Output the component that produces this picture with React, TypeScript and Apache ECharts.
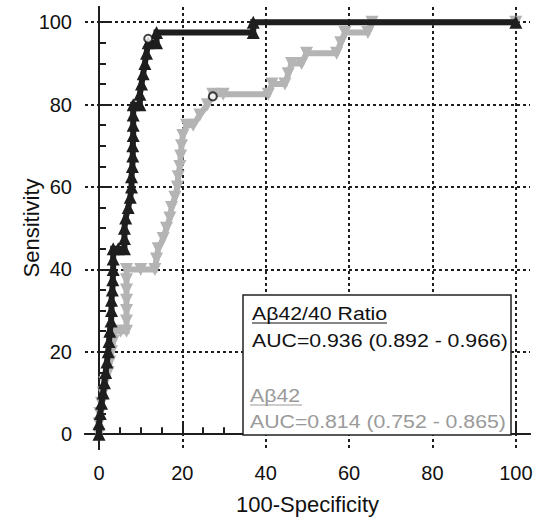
import React, { useEffect, useRef } from "react";
import * as echarts from "echarts";

// ---- data ----
const majorTicks = [0, 20, 40, 60, 80, 100];
const minorTicks = [0, 5, 10, 15, 20, 25, 30, 35, 40, 45, 50, 55, 60, 65, 70, 75, 80, 85, 90, 95, 100];

// Aβ42/40 Ratio ROC (100-Specificity, Sensitivity)
const ratioFpr = [0, 0, 0.3, 0.6, 1, 1.3, 1.6, 1.9, 2.2, 2.4, 2.6, 2.9, 3, 3, 3.2, 3.3, 3.4, 3.4, 3.4, 4.6, 6.1, 6.1, 6.1, 6.4, 7, 7.5, 7.8, 7.8, 8, 8.1, 8.1, 8.2, 8.2, 8.2, 8.2, 9.8, 9.8, 10.2, 10.6, 11, 11.4, 11.8, 13.8, 13.8, 37, 37, 100];
const ratioSens = [0, 2.5, 5, 7.5, 10, 12.5, 15, 17.5, 20, 22.5, 25, 27.5, 30, 32.5, 35, 37.5, 40, 42.5, 45, 45, 45, 47.5, 50, 52.5, 55, 57.5, 60, 62.5, 65, 67.5, 70, 72.5, 75, 77.5, 80, 80, 82.5, 85, 87.5, 90, 92.5, 95, 95, 97.5, 97.5, 100, 100];

// Aβ42 ROC
const ab42Fpr = [0, 0, 0.2, 0.6, 1, 1.4, 2.2, 2.6, 3, 3.4, 3.8, 5.2, 6.6, 6.6, 6.6, 6.6, 6.6, 6.6, 6.6, 10, 13.4, 13.8, 14.2, 15.4, 16.2, 17, 17.4, 18.2, 18.8, 19, 19.4, 19.6, 19.8, 20.1, 21, 22.6, 24.2, 26, 27.3, 29.8, 40.6, 41.5, 44.6, 45.4, 46.2, 48.6, 49.8, 57, 58, 59, 64.5, 65.5, 100];
const ab42Sens = [0, 2.5, 5, 7.5, 10, 12.5, 15, 17.5, 20, 22.5, 25, 25, 25, 27.5, 30, 32.5, 35, 37.5, 40, 40, 40, 42.5, 45, 47.5, 50, 52.5, 55, 57.5, 60, 62.5, 65, 67.5, 70, 72.5, 75, 75, 77.5, 80, 82.5, 82.5, 82.5, 85, 85, 87.5, 90, 90, 92.5, 92.5, 95, 97.5, 97.5, 100, 100];

// optimal cut-off points (open circles)
const ratioCut = [11.8, 96];
const ab42Cut = [27.3, 82];

const ratioTitle = "Aβ42/40 Ratio";
const ratioAuc = "AUC=0.936 (0.892 - 0.966)";
const ab42Title = "Aβ42";
const ab42Auc = "AUC=0.814 (0.752 - 0.865)";

const xName = "100-Specificity";
const yName = "Sensitivity";

const FONT = "'Liberation Sans', Arial, Helvetica, sans-serif";
const DARK = "#1e1e1e";
const GRAY = "#b4b4b4";
const GRAY_TEXT = "#9a9a9a";

const X_MIN = -3.36;
const X_MAX = 103.4;
const Y_MIN = -3.6;
const Y_MAX = 103.7;

export default function App() {
  const ref = useRef<HTMLDivElement>(null);

  useEffect(() => {
    document.body.style.margin = "0";
    const chart = echarts.init(ref.current!, null, { renderer: "svg" });

    const zip = (a: number[], b: number[]) => a.map((v, i) => [v, b[i]]);

    const axisCommon = {
      type: "value" as const,
      axisLine: { show: true, lineStyle: { color: DARK, width: 2 } },
    };

    const option: any = {
      animation: false,
      backgroundColor: "#fff",
      grid: { left: 85, right: 10, top: 7, bottom: 67 },
      xAxis: [
        {
          ...axisCommon,
          position: "bottom",
          min: X_MIN,
          max: X_MAX,
          name: xName,
          nameLocation: "middle",
          nameGap: 44,
          nameMoveOverlap: false,
          nameTextStyle: { fontFamily: FONT, fontSize: 22, color: "#111" },
          axisTick: { show: true, inside: true, length: 12, customValues: majorTicks, lineStyle: { color: DARK, width: 2 } },
          axisLabel: { show: true, customValues: majorTicks, margin: 14, fontFamily: FONT, fontSize: 20, color: "#111" },
          splitLine: { show: true, lineStyle: { color: DARK, width: 2, type: [3, 3] } },
        },
        {
          ...axisCommon,
          position: "bottom",
          min: X_MIN,
          max: X_MAX,
          axisTick: { show: true, inside: true, length: 7, customValues: minorTicks, lineStyle: { color: DARK, width: 2 } },
          axisLabel: { show: false },
          splitLine: { show: false },
        },
      ],
      yAxis: [
        {
          ...axisCommon,
          position: "left",
          min: Y_MIN,
          max: Y_MAX,
          name: yName,
          nameLocation: "middle",
          nameGap: 43,
          nameMoveOverlap: false,
          nameTextStyle: { fontFamily: FONT, fontSize: 22, color: "#111" },
          axisTick: { show: true, inside: true, length: 12, customValues: majorTicks, lineStyle: { color: DARK, width: 2 } },
          axisLabel: { show: true, customValues: majorTicks, margin: 13, fontFamily: FONT, fontSize: 20, color: "#111" },
          splitLine: { show: true, lineStyle: { color: DARK, width: 2, type: [3, 3] } },
        },
        {
          ...axisCommon,
          position: "left",
          min: Y_MIN,
          max: Y_MAX,
          axisTick: { show: true, inside: true, length: 7, customValues: minorTicks, lineStyle: { color: DARK, width: 2 } },
          axisLabel: { show: false },
          splitLine: { show: false },
        },
      ],
      series: [
        {
          name: ab42Title,
          type: "line",
          xAxisIndex: 0,
          yAxisIndex: 0,
          data: zip(ab42Fpr, ab42Sens),
          symbol: "triangle",
          symbolRotate: 180,
          symbolSize: 13,
          showSymbol: true,
          lineStyle: { color: GRAY, width: 6, join: "miter" },
          itemStyle: { color: GRAY },
          z: 3,
        },
        {
          name: ratioTitle,
          type: "line",
          xAxisIndex: 0,
          yAxisIndex: 0,
          data: zip(ratioFpr, ratioSens),
          symbol: "triangle",
          symbolSize: 13,
          showSymbol: true,
          lineStyle: { color: DARK, width: 6, join: "miter" },
          itemStyle: { color: DARK },
          z: 4,
        },
        {
          type: "scatter",
          xAxisIndex: 0,
          yAxisIndex: 0,
          data: [ratioCut, ab42Cut],
          symbol: "circle",
          symbolSize: 8,
          itemStyle: { color: "#fff", borderColor: "#111", borderWidth: 2 },
          z: 6,
        },
      ],
      graphic: [
        {
          type: "rect",
          z: 100,
          shape: { x: 243, y: 295, width: 268, height: 140 },
          style: { fill: "#fff", stroke: "#222", lineWidth: 1.5 },
        },
        {
          type: "text",
          z: 101,
          x: 252,
          y: 313,
          scaleX: 1.12,
          style: { text: ratioTitle, font: `19px ${FONT}`, fill: "#111", textAlign: "left", textVerticalAlign: "middle" },
        },
        {
          type: "line",
          z: 101,
          shape: { x1: 252, y1: 323, x2: 387, y2: 323 },
          style: { stroke: "#111", lineWidth: 1.2 },
        },
        {
          type: "text",
          z: 101,
          x: 252,
          y: 340,
          scaleX: 1.12,
          style: { text: ratioAuc, font: `19px ${FONT}`, fill: "#111", textAlign: "left", textVerticalAlign: "middle" },
        },
        {
          type: "text",
          z: 101,
          x: 250,
          y: 395,
          scaleX: 1.12,
          style: { text: ab42Title, font: `19px ${FONT}`, fill: GRAY_TEXT, textAlign: "left", textVerticalAlign: "middle" },
        },
        {
          type: "line",
          z: 101,
          shape: { x1: 250, y1: 405, x2: 302, y2: 405 },
          style: { stroke: GRAY_TEXT, lineWidth: 1.2 },
        },
        {
          type: "text",
          z: 101,
          x: 250,
          y: 421,
          scaleX: 1.12,
          style: { text: ab42Auc, font: `19px ${FONT}`, fill: GRAY_TEXT, textAlign: "left", textVerticalAlign: "middle" },
        },
      ],
    };

    chart.setOption(option);
    return () => chart.dispose();
  }, []);

  return <div ref={ref} style={{ width: 540, height: 520 }} />;
}
